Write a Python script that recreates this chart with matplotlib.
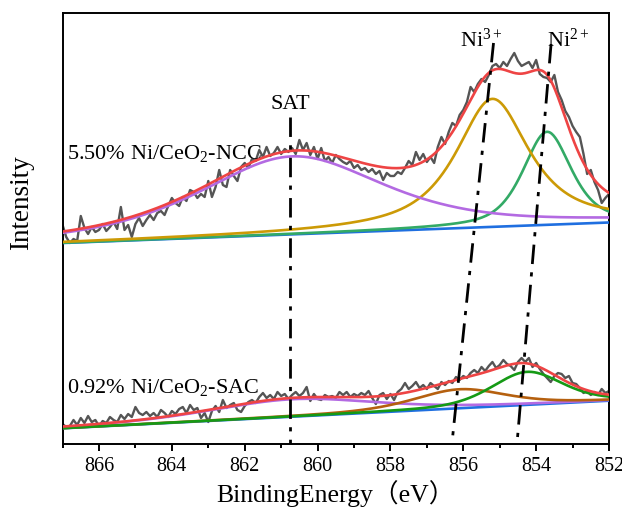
import numpy as np
import matplotlib.pyplot as plt

plt.rcParams['font.family'] = ['Liberation Serif', 'Noto Sans CJK SC']
plt.rcParams['mathtext.fontset'] = 'custom'
plt.rcParams['mathtext.rm'] = 'Liberation Serif'
plt.rcParams['mathtext.it'] = 'Liberation Serif:italic'

# Ni 2p3/2 raw spectra, 867 -> 852 eV in 0.1 eV steps (arb. units)
energy = np.linspace(867, 852, 151)
ncc_counts = [219, 207, 201, 205, 203, 228, 216, 210, 217, 212, 214,
              220, 213, 217, 222, 215, 237, 214, 219, 207, 220,
              226, 218, 224, 229, 224, 231, 233, 229, 238, 246,
              241, 238, 247, 243, 254, 252, 246, 250, 247, 263,
              247, 257, 274, 259, 257, 274, 268, 263, 277, 281,
              276, 285, 283, 294, 287, 297, 288, 291, 297, 290,
              295, 292, 296, 290, 304, 294, 301, 289, 297, 285,
              296, 283, 287, 281, 289, 285, 282, 280, 283, 276,
              279, 274, 276, 272, 275, 270, 273, 264, 271, 268,
              268, 272, 270, 276, 283, 279, 292, 284, 290, 282,
              287, 281, 297, 307, 300, 312, 321, 318, 329, 334,
              342, 357, 352, 360, 365, 362, 369, 378, 380, 376,
              382, 378, 385, 391, 383, 378, 380, 382, 376, 384,
              370, 367, 366, 362, 369, 352, 344, 333, 327, 318,
              312, 307, 290, 270, 274, 262, 254, 241, 246, 250]
sac_counts = [20, 17, 18, 24, 19, 26, 21, 28, 22, 24, 18,
              23, 21, 27, 24, 22, 29, 25, 30, 27, 37,
              31, 29, 32, 28, 31, 27, 34, 31, 27, 33,
              30, 35, 37, 31, 39, 34, 36, 26, 31, 22,
              33, 38, 32, 44, 36, 39, 41, 34, 32, 38,
              42, 44, 41, 47, 51, 46, 49, 45, 52, 48,
              50, 45, 49, 52, 48, 51, 57, 43, 50, 45,
              44, 49, 47, 48, 46, 52, 49, 52, 47, 50,
              48, 51, 49, 53, 46, 40, 49, 51, 45, 50,
              44, 52, 55, 61, 55, 58, 62, 56, 59, 55,
              61, 58, 55, 62, 59, 63, 61, 67, 64, 68,
              66, 71, 74, 71, 77, 73, 78, 82, 76, 79,
              84, 80, 78, 74, 82, 86, 82, 86, 77, 81,
              75, 70, 66, 62, 68, 71, 70, 66, 68, 61,
              60, 56, 51, 53, 49, 52, 49, 55, 51, 53]

# fit results: linear background at 867 / 852 eV and
# peaks as (centre eV, height, fwhm eV, lorentzian fraction)
ncc_bg = (201, 221.5)
ncc_sat = (860.7, 78, 6.0, 0.6)
ncc_ni3 = (855.2, 128, 2.4, 0.85)
ncc_ni2 = (853.7, 93, 1.57, 0.58)

sac_bg = (15.7, 43.3)
sac_sat = (860.7, 17.5, 5.4, 0.45)
sac_ni3 = (856.1, 19, 3.0, 0.5)
sac_ni2 = (854.25, 33, 2.3, 0.4)

# guide lines through peak positions: (x0, y0, x1, y1)
sat_guide = (860.75, 327, 860.75, 0)
ni3_guide = (855.17, 401, 856.31, 1)
ni2_guide = (853.59, 400, 854.51, 7)


def pvoigt(x, p):
    c, h, w, eta = p
    d = (x - c) / (w / 2)
    return h * (eta / (1 + d**2) + (1 - eta) * np.exp(-np.log(2) * d**2))


def background(x, bg):
    return bg[0] + (bg[1] - bg[0]) * (867 - x) / 15


xf = np.linspace(867, 852, 600)

fig = plt.figure(figsize=(6.22, 5.09), dpi=100)
ax = fig.add_axes([0.1006, 0.1277, 0.8785, 0.8468])

c_red = '#EE4444'
c_purple = '#B36AE2'
c_blue = '#1F6FE0'
lw = 1.9

# 5.50% Ni/CeO2-NCC
bg = background(xf, ncc_bg)
ax.plot(energy, ncc_counts, color='#555555', lw=1.7, zorder=2)
ax.plot(xf, bg, color=c_blue, lw=lw, zorder=3)
ax.plot(xf, bg + pvoigt(xf, ncc_ni2), color='#33AA66', lw=lw, zorder=3)
ax.plot(xf, bg + pvoigt(xf, ncc_ni3), color='#CC9A06', lw=lw, zorder=3)
ax.plot(xf, bg + pvoigt(xf, ncc_sat), color=c_purple, lw=lw, zorder=3)
env = bg + pvoigt(xf, ncc_sat) + pvoigt(xf, ncc_ni3) + pvoigt(xf, ncc_ni2)
ax.plot(xf, env, color=c_red, lw=lw, zorder=4)

# 0.92% Ni/CeO2-SAC
bg = background(xf, sac_bg)
ax.plot(energy, sac_counts, color='#555555', lw=1.7, zorder=2)
ax.plot(xf, bg, color=c_blue, lw=lw, zorder=3)
ax.plot(xf, bg + pvoigt(xf, sac_sat), color=c_purple, lw=lw, zorder=3)
ax.plot(xf, bg + pvoigt(xf, sac_ni3), color='#B5600F', lw=lw, zorder=3)
ax.plot(xf, bg + pvoigt(xf, sac_ni2), color='#159A15', lw=lw, zorder=3)
env = bg + pvoigt(xf, sac_sat) + pvoigt(xf, sac_ni3) + pvoigt(xf, sac_ni2)
ax.plot(xf, env, color=c_red, lw=lw, zorder=4)

dashdot = (0, (7, 3, 1.5, 3))
for g in (sat_guide, ni3_guide, ni2_guide):
    ax.plot([g[0], g[2]], [g[1], g[3]], color='black', lw=2, ls=dashdot, zorder=5)

ax.text(860.75, 335, 'SAT', fontsize=16, ha='center', va='baseline')
ax.text(856.08, 397, 'Ni$^{3+}$', fontsize=16, va='baseline')
ax.text(853.69, 397, 'Ni$^{2+}$', fontsize=16, va='baseline')
ax.text(866.88, 285, '5.50% Ni/CeO$_2$-NCC', fontsize=16, va='baseline')
ax.text(866.88, 51, '0.92% Ni/CeO$_2$-SAC', fontsize=16, va='baseline')

ax.set_xlim(867, 852)
ax.set_ylim(0, 431)
ax.set_xticks(np.arange(866, 851, -2))
ax.set_xticks(np.arange(867, 852, -2), minor=True)
ax.set_yticks([])
ax.tick_params(axis='x', which='major', length=5.3, width=1.4, labelsize=14.5, pad=4)
ax.tick_params(axis='x', which='minor', length=2.9, width=1.4)
for s in ax.spines.values():
    s.set_linewidth(1.4)

ax.set_xlabel('BindingEnergy（eV）', fontsize=18.5, labelpad=3)
ax.set_ylabel('Intensity', fontsize=19.5)
ax.yaxis.set_label_coords(-0.052, 0.56)

fig.savefig('out.png', dpi=100)
